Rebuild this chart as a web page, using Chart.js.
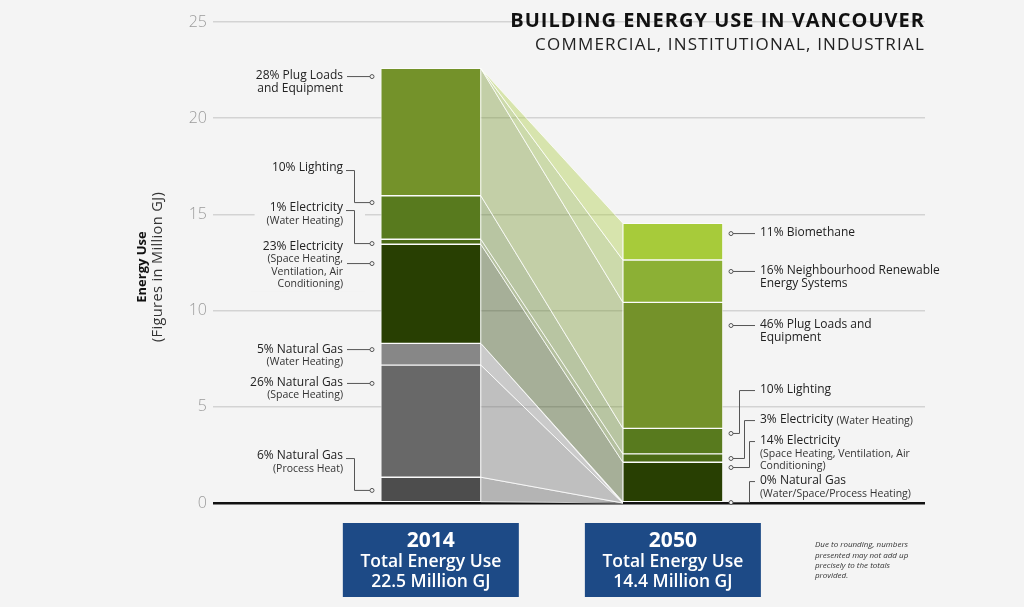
<!DOCTYPE html>
<html>
<head>
<meta charset="utf-8">
<script src="https://cdn.jsdelivr.net/npm/chart.js@4/dist/chart.umd.min.js"></script>
<style>
  html, body { margin: 0; background: #f4f4f4; }
  #wrap { width: 1024px; height: 607px; position: relative; }
</style>
</head>
<body>
<div id="wrap"><canvas id="chart"></canvas></div>
<script>
// Data (million GJ)
const years = [2014, 2050];
const totals = ['22.5', '14.4'];
const ngProcess = [1.34, 0];
const ngSpace = [5.83, 0];
const ngWater = [1.13, 0];
const elecSpace = [5.15, 2.12];
const elecWater = [0.26, 0.43];
const lighting = [2.26, 1.33];
const plugLoads = [6.62, 6.55];
const neighbourhood = [0, 2.20];
const biomethane = [0, 1.91];
const yTicks = [0, 5, 10, 15, 20, 25];

const seriesNames = ['Natural Gas (Process Heat)', 'Natural Gas (Space Heating)', 'Natural Gas (Water Heating)',
  'Electricity (Space Heating)', 'Electricity (Water Heating)', 'Lighting', 'Plug Loads and Equipment',
  'Neighbourhood Renewable Energy Systems', 'Biomethane'];
const seriesValues = [ngProcess, ngSpace, ngWater, elecSpace, elecWater, lighting, plugLoads, neighbourhood, biomethane];
const seriesColors = ['#4d4d4d', '#686868', '#878787', '#283f02', '#4b6b16', '#587a1e', '#74922a', '#8cb035', '#a7cb3a'];

// label texts
const labels2014 = [
  { main: ['28% Plug Loads', 'and Equipment'], sub: [] },
  { main: ['10% Lighting'], sub: [] },
  { main: ['1% Electricity'], sub: ['(Water Heating)'] },
  { main: ['23% Electricity'], sub: ['(Space Heating,', 'Ventilation, Air', 'Conditioning)'] },
  { main: ['5% Natural Gas'], sub: ['(Water Heating)'] },
  { main: ['26% Natural Gas'], sub: ['(Space Heating)'] },
  { main: ['6% Natural Gas'], sub: ['(Process Heat)'] }
];
const labels2050 = [
  { main: ['11% Biomethane'], sub: [] },
  { main: ['16% Neighbourhood Renewable', 'Energy Systems'], sub: [] },
  { main: ['46% Plug Loads and', 'Equipment'], sub: [] },
  { main: ['10% Lighting'], sub: [] },
  { main: ['3% Electricity'], inline: '(Water Heating)', sub: [] },
  { main: ['14% Electricity'], sub: ['(Space Heating, Ventilation, Air', 'Conditioning)'] },
  { main: ['0% Natural Gas'], sub: ['(Water/Space/Process Heating)'] }
];
const noteLines = ['Due to rounding, numbers', 'presented may not add up', 'precisely to the totals', 'provided.'];

// label placement in axis units (text = first line, point = leader end)
const layout2014 = [
  { text: 22.19, point: 22.19 }, { text: 17.41, point: 15.64, bend: true }, { text: 15.33, point: 13.51, bend: true },
  { text: 13.31, point: 12.47 }, { text: 8.0, point: 8.0 }, { text: 6.24, point: 6.24 }, { text: 2.44, point: 0.68, bend: true }
];
const layout2050 = [
  { text: 14.03, point: 14.03 }, { text: 12.06, point: 12.06 }, { text: 9.25, point: 9.25 },
  { text: 5.87, point: 3.64, bendX: 739 }, { text: 4.31, point: 2.34, bendX: 744 },
  { text: 3.22, point: 1.87, bendX: 749 }, { text: 1.14, point: 0.05, bendX: 749 }
];

const FONT = '"Open Sans", sans-serif';
const BG = '#f4f4f4';

function hexA(hex, a) {
  const n = parseInt(hex.slice(1), 16);
  return `rgba(${n >> 16}, ${(n >> 8) & 255}, ${n & 255}, ${a})`;
}

// flows between the two stacks
const flowPlugin = {
  id: 'flows',
  beforeDatasetsDraw(chart) {
    const ctx = chart.ctx;
    ctx.save();
    seriesValues.forEach((s, i) => {
      const bars = chart.getDatasetMeta(i).data;
      const a = bars[0], b = bars[1];
      const lx = a.x + a.width / 2, rx = b.x - b.width / 2;
      ctx.beginPath();
      ctx.moveTo(lx, a.y);
      ctx.lineTo(rx, b.y);
      ctx.lineTo(rx, b.base);
      ctx.lineTo(lx, a.base);
      ctx.closePath();
      ctx.fillStyle = hexA(seriesColors[i], 0.38);
      ctx.fill();
      ctx.strokeStyle = 'rgba(255,255,255,0.75)';
      ctx.lineWidth = 1;
      ctx.stroke();
    });
    ctx.restore();
  }
};

function labelBlock(lab) {
  const lines = [];
  lab.main.forEach(t => lines.push({ t, font: `500 12px ${FONT}`, color: '#222' }));
  lab.sub.forEach(t => lines.push({ t, font: `400 10.5px ${FONT}`, color: '#333' }));
  return lines;
}

const annotationPlugin = {
  id: 'annotations',
  afterDraw(chart) {
    const ctx = chart.ctx;
    const y = chart.scales.y;
    const area = chart.chartArea;
    const lineGap = 12.5;
    ctx.save();
    ctx.textBaseline = 'middle';

    // left labels (2014)
    const leftX = 343, bendL = 354, dotL = 372;
    labels2014.forEach((lab, i) => {
      const lines = labelBlock(lab);
      const ty = y.getPixelForValue(layout2014[i].text);
      let w = 0;
      lines.forEach(l => { ctx.font = l.font; w = Math.max(w, ctx.measureText(l.t).width); });
      ctx.fillStyle = BG;
      ctx.fillRect(leftX - w - 12, ty - 7, bendL + 11 - (leftX - w - 12), (lines.length - 1) * lineGap + 14);
    });
    labels2014.forEach((lab, i) => {
      const lines = labelBlock(lab);
      const lay = layout2014[i];
      const ty = y.getPixelForValue(lay.text);
      const py = y.getPixelForValue(lay.point);
      ctx.textAlign = 'right';
      lines.forEach((l, k) => {
        ctx.font = l.font; ctx.fillStyle = l.color;
        ctx.fillText(l.t, leftX, ty + k * lineGap);
      });
      ctx.strokeStyle = '#555'; ctx.lineWidth = 1;
      ctx.beginPath();
      if (lay.bend) {
        ctx.moveTo(leftX + 3, ty + 2.5);
        ctx.lineTo(bendL + 0.5, ty + 2.5);
        ctx.lineTo(bendL + 0.5, py + 0.5);
        ctx.lineTo(dotL - 2, py + 0.5);
      } else {
        ctx.moveTo(leftX + 4, py + 0.5);
        ctx.lineTo(dotL - 2, py + 0.5);
      }
      ctx.stroke();
      ctx.beginPath();
      ctx.arc(dotL, py + 0.5, 2, 0, Math.PI * 2);
      ctx.fillStyle = BG; ctx.fill(); ctx.stroke();
    });

    // right labels (2050)
    const rightX = 760, dotR = 731, leadEnd = 755;
    labels2050.forEach((lab, i) => {
      const lines = labelBlock(lab);
      const lay = layout2050[i];
      const ty = y.getPixelForValue(lay.text);
      const py = y.getPixelForValue(lay.point);
      ctx.textAlign = 'left';
      lines.forEach((l, k) => {
        ctx.font = l.font; ctx.fillStyle = l.color;
        const ly = ty + k * lineGap;
        ctx.fillText(l.t, rightX, ly);
        if (k === 0 && lab.inline) {
          const w = ctx.measureText(l.t + ' ').width;
          ctx.font = `400 10.5px ${FONT}`; ctx.fillStyle = '#333';
          ctx.fillText(lab.inline, rightX + w, ly + 0.5);
        }
      });
      ctx.strokeStyle = '#555'; ctx.lineWidth = 1;
      ctx.beginPath();
      if (lay.bendX) {
        ctx.moveTo(dotR + 2, py + 0.5);
        ctx.lineTo(lay.bendX + 0.5, py + 0.5);
        ctx.lineTo(lay.bendX + 0.5, ty + 0.5);
        ctx.lineTo(leadEnd, ty + 0.5);
      } else {
        ctx.moveTo(dotR + 2, py + 0.5);
        ctx.lineTo(leadEnd, py + 0.5);
      }
      ctx.stroke();
      ctx.beginPath();
      ctx.arc(dotR, py + 0.5, 2, 0, Math.PI * 2);
      ctx.fillStyle = BG; ctx.fill(); ctx.stroke();
    });

    // year boxes under the bars
    const meta = chart.getDatasetMeta(0).data;
    years.forEach((yr, i) => {
      const cx = meta[i].x;
      const top = area.bottom + 20;
      ctx.fillStyle = '#1d4a86';
      ctx.fillRect(cx - 88, top, 176, 74);
      ctx.fillStyle = '#fff';
      ctx.textAlign = 'center';
      ctx.font = `700 21px ${FONT}`;
      ctx.fillText(String(yr), cx, top + 18);
      ctx.font = `600 17.5px ${FONT}`;
      ctx.fillText('Total Energy Use', cx, top + 39);
      ctx.fillText(`${totals[i]} Million GJ`, cx, top + 59);
    });

    // note
    ctx.textAlign = 'left';
    ctx.fillStyle = '#333';
    ctx.font = `italic 400 8px ${FONT}`;
    noteLines.forEach((t, k) => ctx.fillText(t, 815, 545 + k * 10.3));

    // title
    ctx.textAlign = 'right';
    ctx.fillStyle = '#111';
    ctx.font = `700 20px ${FONT}`;
    ctx.letterSpacing = '1px';
    ctx.fillText('BUILDING ENERGY USE IN VANCOUVER', area.right, 21);
    ctx.font = `400 17px ${FONT}`;
    ctx.letterSpacing = '1.2px';
    ctx.fillStyle = '#222';
    ctx.fillText('COMMERCIAL, INSTITUTIONAL, INDUSTRIAL', area.right, 45);
    ctx.letterSpacing = '0px';

    // y axis title
    ctx.translate(142, 267);
    ctx.rotate(-Math.PI / 2);
    ctx.textAlign = 'center';
    ctx.fillStyle = '#111';
    ctx.font = `700 13px ${FONT}`;
    ctx.fillText('Energy Use', 0, 0);
    ctx.font = `400 14.5px ${FONT}`;
    ctx.letterSpacing = '0.4px';
    ctx.fillStyle = '#333';
    ctx.fillText('(Figures in Million GJ)', 0, 16);
    ctx.restore();
  }
};

new Chart(document.getElementById('chart'), {
  type: 'bar',
  data: {
    datasets: seriesValues.map((vals, i) => ({
      label: seriesNames[i],
      data: vals.map((v, k) => ({ x: years[k], y: v })),
      backgroundColor: seriesColors[i],
      borderColor: 'rgba(255,255,255,0.6)',
      borderWidth: 1,
      borderSkipped: false,
      barThickness: 100
    }))
  },
  options: {
    responsive: true,
    maintainAspectRatio: false,
    animation: false,
    layout: { padding: { top: 22, right: 99, bottom: 104, left: 0 } },
    plugins: {
      legend: { display: false },
      tooltip: { enabled: false }
    },
    scales: {
      x: {
        type: 'linear',
        stacked: true,
        offset: false,
        min: 1981.6,
        max: 2087.5,
        display: false
      },
      y: {
        stacked: true,
        min: 0,
        max: 25,
        afterBuildTicks: (scale) => { scale.ticks = yTicks.map(v => ({ value: v })); },
        afterFit: (scale) => { scale.width = 213; },
        border: { display: false },
        grid: {
          drawTicks: false,
          color: (c) => c.tick && c.tick.value === 0 ? '#111' : '#d3d3d3',
          lineWidth: (c) => c.tick && c.tick.value === 0 ? 2.5 : 1.5
        },
        ticks: {
          padding: 6,
          color: '#9b9b9b',
          font: { family: FONT, size: 16, weight: '300' }
        }
      }
    }
  },
  plugins: [flowPlugin, annotationPlugin]
});
</script>
</body>
</html>
